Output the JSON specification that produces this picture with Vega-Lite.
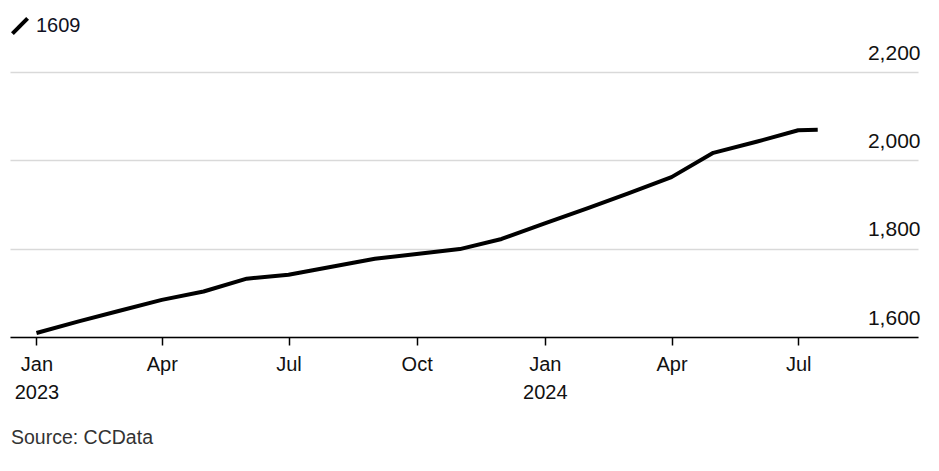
{
  "$schema": "https://vega.github.io/schema/vega-lite/v6.json",
  "autosize": {"type": "none"},
  "width": 908,
  "height": 265,
  "padding": {"left": 10, "top": 72, "right": 21, "bottom": 134},
  "background": "white",
  "config": {
    "view": {"stroke": null},
    "font": "Liberation Sans"
  },
  "title": {
    "text": "Source: CCData",
    "orient": "bottom",
    "anchor": "start",
    "frame": "group",
    "baseline": "top",
    "offset": 27,
    "dx": 1,
    "font": "Liberation Sans",
    "fontSize": 19.5,
    "fontWeight": "normal",
    "color": "#333333"
  },
  "data": {
    "values": [
      {"date": "2023-01-01", "value": 1609, "series": "1609"},
      {"date": "2023-02-01", "value": 1636, "series": "1609"},
      {"date": "2023-03-01", "value": 1659, "series": "1609"},
      {"date": "2023-04-01", "value": 1684, "series": "1609"},
      {"date": "2023-05-01", "value": 1703, "series": "1609"},
      {"date": "2023-06-01", "value": 1732, "series": "1609"},
      {"date": "2023-07-01", "value": 1741, "series": "1609"},
      {"date": "2023-08-01", "value": 1759, "series": "1609"},
      {"date": "2023-09-01", "value": 1777, "series": "1609"},
      {"date": "2023-10-01", "value": 1788, "series": "1609"},
      {"date": "2023-11-01", "value": 1799, "series": "1609"},
      {"date": "2023-12-01", "value": 1822, "series": "1609"},
      {"date": "2024-01-01", "value": 1857, "series": "1609"},
      {"date": "2024-02-01", "value": 1892, "series": "1609"},
      {"date": "2024-03-01", "value": 1925, "series": "1609"},
      {"date": "2024-04-01", "value": 1962, "series": "1609"},
      {"date": "2024-05-01", "value": 2017, "series": "1609"},
      {"date": "2024-06-01", "value": 2042, "series": "1609"},
      {"date": "2024-07-01", "value": 2068, "series": "1609"},
      {"date": "2024-07-15", "value": 2069, "series": "1609"}
    ]
  },
  "mark": {"type": "line", "strokeWidth": 4, "strokeJoin": "round"},
  "encoding": {
    "x": {
      "field": "date",
      "type": "temporal",
      "scale": {"type": "utc", "domain": ["2022-12-13", "2024-09-25"]},
      "axis": {
        "title": null,
        "values": [
          {"year": 2023, "month": 1, "date": 1, "utc": true},
          {"year": 2023, "month": 4, "date": 1, "utc": true},
          {"year": 2023, "month": 7, "date": 1, "utc": true},
          {"year": 2023, "month": 10, "date": 1, "utc": true},
          {"year": 2024, "month": 1, "date": 1, "utc": true},
          {"year": 2024, "month": 4, "date": 1, "utc": true},
          {"year": 2024, "month": 7, "date": 1, "utc": true}
        ],
        "labelExpr": "utcmonth(datum.value) == 0 ? [utcFormat(datum.value, '%b'), utcFormat(datum.value, '%Y')] : utcFormat(datum.value, '%b')",
        "labelFont": "Liberation Sans",
        "labelFontSize": 20,
        "labelColor": "#111111",
        "labelPadding": 9,
        "labelLineHeight": 28,
        "labelBaseline": "top",
        "labelAlign": "center",
        "labelFlush": false,
        "labelOverlap": false,
        "domainColor": "#000000",
        "domainWidth": 1.5,
        "tickColor": "#000000",
        "tickWidth": 1.5,
        "tickSize": 8,
        "grid": false
      }
    },
    "y": {
      "field": "value",
      "type": "quantitative",
      "scale": {"domain": [1600, 2200], "nice": false, "zero": false},
      "axis": {
        "title": null,
        "orient": "right",
        "values": [1600, 1800, 2000, 2200],
        "format": ",.0f",
        "labelFont": "Liberation Sans",
        "labelFontSize": 21,
        "labelColor": "#111111",
        "labelAlign": "right",
        "labelBaseline": "alphabetic",
        "labelPadding": 2,
        "labelOffset": -13,
        "labelFlush": false,
        "labelOverlap": false,
        "ticks": false,
        "tickSize": 0,
        "domain": false,
        "grid": true,
        "gridColor": "#d9d9d9",
        "gridWidth": 1.5
      }
    },
    "color": {
      "field": "series",
      "type": "nominal",
      "scale": {"range": ["#000000"]},
      "legend": {
        "title": null,
        "orient": "none",
        "legendX": 0,
        "legendY": -56,
        "padding": 0,
        "symbolType": "M-1,1L1,-1",
        "symbolSize": 230,
        "symbolStrokeWidth": 4,
        "symbolStrokeColor": "#000000",
        "labelFont": "Liberation Sans",
        "labelFontSize": 20,
        "labelColor": "#111122",
        "labelOffset": 6
      }
    }
  }
}
